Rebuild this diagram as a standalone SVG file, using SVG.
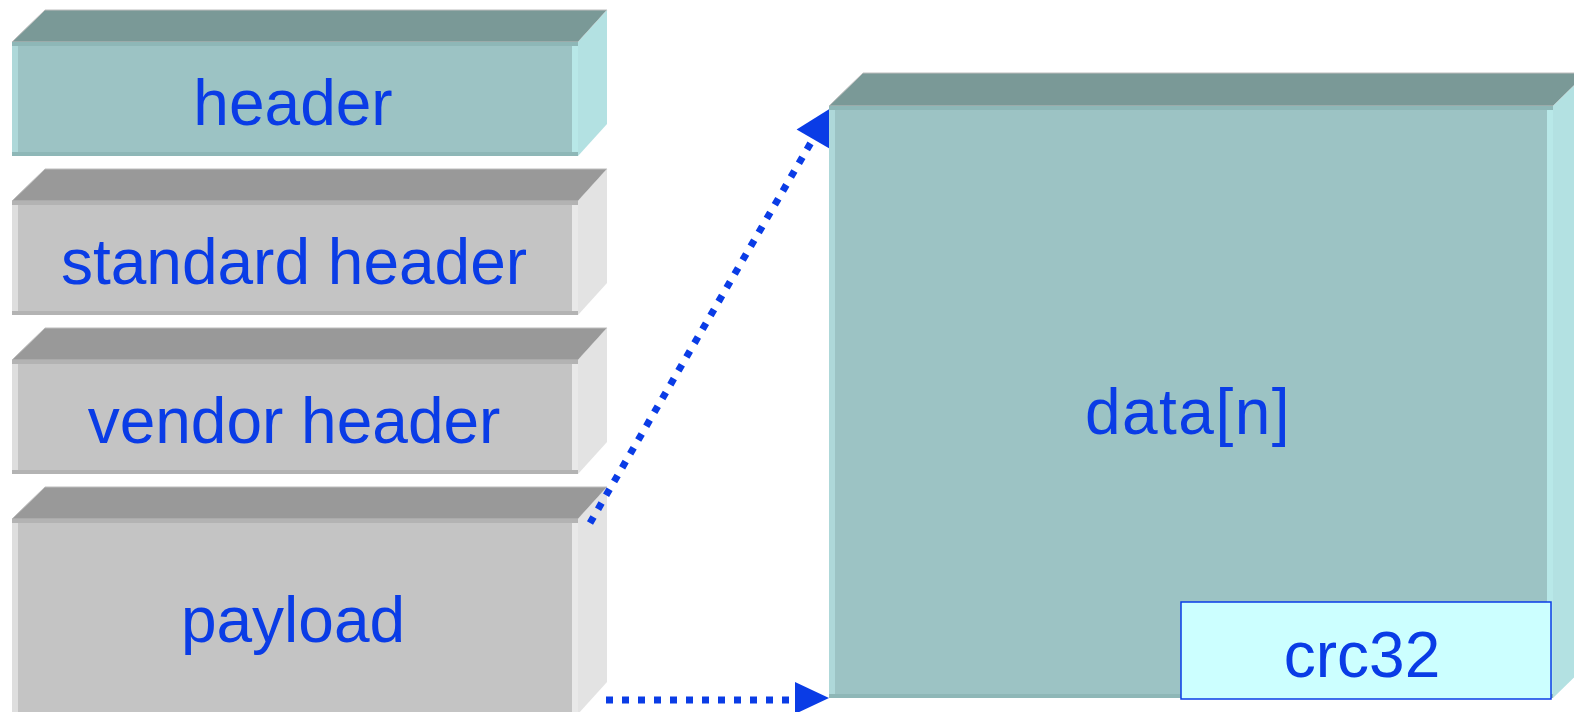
<svg xmlns="http://www.w3.org/2000/svg" width="1574" height="712" viewBox="0 0 1574 712">
<style>
.lbl{font-family:"Liberation Sans",Arial,sans-serif;font-size:64px;fill:#0A3CE6;text-anchor:middle}
.t-front{fill:#9CC3C4}.t-top{fill:#7A9997;stroke:#BDBDBD;stroke-width:1}.t-side{fill:#B3E1E2}.t-ls{fill:#AED8D9}.t-rs{fill:#B8E8E8}.t-hs{fill:#8EB7B7}
.g-front{fill:#C4C4C4}.g-top{fill:#999999;stroke:#BDBDBD;stroke-width:1}.g-side{fill:#E3E3E3}.g-ls{fill:#DEDEDE}.g-rs{fill:#E9E9E9}.g-hs{fill:#B3B3B3}
.dot{fill:none;stroke:#0A3CE6;stroke-width:7;stroke-dasharray:7 9}
.head{fill:#0A3CE6}
</style>
<g id="header">
<polygon class="t-top" points="12,42 45,10 607,10 578,42"/>
<polygon class="t-side" points="578,42 607,10 607,124 578,156"/>
<rect class="t-front" x="12" y="42" width="566" height="114"/>
<rect class="t-ls" x="12" y="42" width="6" height="114"/>
<rect class="t-rs" x="572" y="42" width="6" height="114"/>
<rect class="t-hs" x="12" y="42" width="566" height="4"/>
<rect class="t-hs" x="12" y="152" width="566" height="4"/>
<text class="lbl" x="293" y="125">header</text>
</g>
<g id="standard-header">
<polygon class="g-top" points="12,201 45,169 607,169 578,201"/>
<polygon class="g-side" points="578,201 607,169 607,283 578,315"/>
<rect class="g-front" x="12" y="201" width="566" height="114"/>
<rect class="g-ls" x="12" y="201" width="6" height="114"/>
<rect class="g-rs" x="572" y="201" width="6" height="114"/>
<rect class="g-hs" x="12" y="201" width="566" height="4"/>
<rect class="g-hs" x="12" y="311" width="566" height="4"/>
<text class="lbl" x="294" y="284">standard header</text>
</g>
<g id="vendor-header">
<polygon class="g-top" points="12,360 45,328 607,328 578,360"/>
<polygon class="g-side" points="578,360 607,328 607,442 578,474"/>
<rect class="g-front" x="12" y="360" width="566" height="114"/>
<rect class="g-ls" x="12" y="360" width="6" height="114"/>
<rect class="g-rs" x="572" y="360" width="6" height="114"/>
<rect class="g-hs" x="12" y="360" width="566" height="4"/>
<rect class="g-hs" x="12" y="470" width="566" height="4"/>
<text class="lbl" x="294" y="443">vendor header</text>
</g>
<g id="payload">
<polygon class="g-top" points="12,519 45,487 607,487 578,519"/>
<polygon class="g-side" points="578,519 607,487 607,682 578,714"/>
<rect class="g-front" x="12" y="519" width="566" height="195"/>
<rect class="g-ls" x="12" y="519" width="6" height="195"/>
<rect class="g-rs" x="572" y="519" width="6" height="195"/>
<rect class="g-hs" x="12" y="519" width="566" height="4"/>
<text class="lbl" x="293" y="642">payload</text>
</g>
<g id="connectors">
<line class="dot" x1="590" y1="523" x2="813" y2="139"/>
<polygon class="head" points="796.6,129.5 831,108 829.4,148.5"/>
<line class="dot" x1="606" y1="700" x2="795" y2="700"/>
<polygon class="head" points="795,682 829,698 795,714"/>
</g>
<g id="data">
<polygon class="t-top" points="829,106 863,73 1587,73 1553,106"/>
<polygon class="t-side" points="1553,106 1587,73 1587,665 1553,698"/>
<rect class="t-front" x="829" y="106" width="724" height="592"/>
<rect class="t-ls" x="829" y="106" width="6" height="592"/>
<rect class="t-rs" x="1547" y="106" width="6" height="592"/>
<rect class="t-hs" x="829" y="106" width="724" height="4"/>
<rect class="t-hs" x="829" y="694" width="724" height="4"/>
<text class="lbl" x="1188" y="434" letter-spacing="1.5">data[n]</text>
</g>
<g id="crc32">
<rect x="1181" y="602" width="370" height="97" fill="#CCFFFF" stroke="#0A3CE6" stroke-width="1.5"/>
<text class="lbl" x="1362" y="677">crc32</text>
</g>
</svg>
